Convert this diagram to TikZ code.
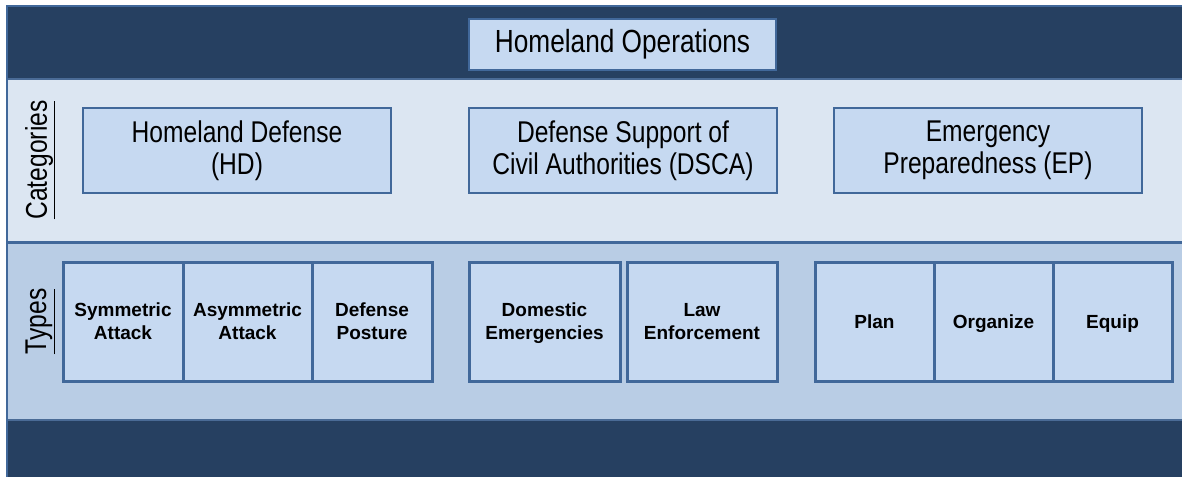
\documentclass[tikz,border=0pt]{standalone}
\usepackage{fontspec}
\setmainfont{Liberation Sans}
\newfontfamily\narrowfont[FakeStretch=0.82]{Liberation Sans}
\usetikzlibrary{positioning}
\definecolor{darkband}{HTML}{264061}
\definecolor{catband}{HTML}{DCE6F2}
\definecolor{typeband}{HTML}{B9CDE5}
\definecolor{boxfill}{HTML}{C6D9F1}
\definecolor{boxline}{HTML}{41689A}
\definecolor{bandline}{HTML}{4A6B96}
\tikzset{catbox/.style = {draw = boxline, line width = 2.5, fill = boxfill, inner sep = 0, outer sep = 0,
                          minimum width = 308, minimum height = 85, align = center,
                          font = \narrowfont\fontsize{30}{32}\selectfont}}
\tikzset{typebox/.style = {draw = boxline, line width = 3, fill = boxfill, inner sep = 0, outer sep = 0,
                           minimum height = 119, align = center, text depth = 0,
                           font = \bfseries\fontsize{19}{23}\selectfont}}
\tikzset{sidelabel/.style = {rotate = 90, inner sep = 0, font = \narrowfont\fontsize{30}{32}\selectfont}}

\begin{document}
\begin{tikzpicture}[x = 1pt, y = -1pt]
      \useasboundingbox (0, 0) rectangle (1182, 477);
      \fill [white] (0, 0) rectangle (1182, 477);
      % bands
      \fill [darkband] (6, 5) rectangle (1182, 79);
      \fill [catband] (6, 79) rectangle (1182, 242);
      \fill [typeband] (6, 242) rectangle (1182, 420);
      \fill [darkband] (6, 420) rectangle (1182, 477);
      \draw [bandline, line width = 2] (6, 79) -- (1182, 79);
      \draw [boxline, line width = 3] (6, 242) -- (1182, 242);
      \draw [bandline, line width = 2] (6, 420) -- (1182, 420);
      \draw [boxline, line width = 2] (1182, 5.5) -- (6.5, 5.5) -- (6.5, 477);
      % header
      \node [catbox, minimum width = 307, minimum height = 51, font = \narrowfont\fontsize{32}{34}\selectfont]
            (ops) at (622.5, 44.5) {Homeland Operations};
      % categories
      \node [sidelabel] (catlabel) at (40, 160) {\underline{Categories}};
      \node [catbox] (hd) at (237, 150.5) {Homeland Defense\\(HD)};
      \node [catbox] (dsca) at (623, 150.5) {Defense Support of\\Civil Authorities (DSCA)};
      \node [catbox] (ep) at (988, 150.5) {Emergency\\Preparedness (EP)};
      % types
      \node [sidelabel] (typelabel) at (40, 321.5) {\underline{Types}};
      \node [typebox, minimum width = 120] (sym) at (123, 321.5) {Symmetric\\Attack};
      \node [typebox, minimum width = 129, right = 0 of sym] (asym) {Asymmetric\\Attack};
      \node [typebox, minimum width = 120, right = 0 of asym] (posture) {Defense\\Posture};
      \node [typebox, minimum width = 151] (dom) at (544.5, 321.5) {Domestic\\Emergencies};
      \node [typebox, minimum width = 150] (law) at (702, 321.5) {Law\\Enforcement};
      \node [typebox, minimum width = 119] (plan) at (874.5, 321.5) {Plan};
      \node [typebox, minimum width = 119, right = 0 of plan] (organize) {Organize};
      \node [typebox, minimum width = 119, right = 0 of organize] (equip) {Equip};
\end{tikzpicture}
\end{document}
